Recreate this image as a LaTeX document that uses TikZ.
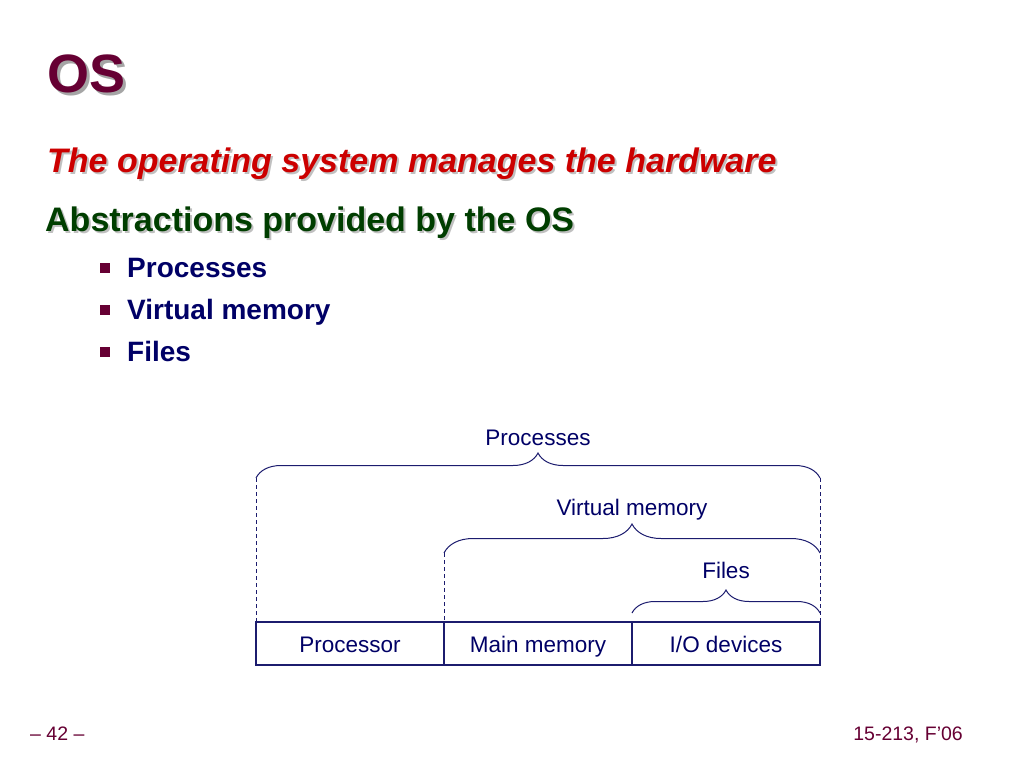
\documentclass[tikz,border=0pt]{standalone}
\usepackage{fontspec}
\setmainfont{Liberation Sans}
\usepackage{tikz}
\usetikzlibrary{calc}
\usetikzlibrary{positioning}
\usetikzlibrary{decorations.pathreplacing}
\definecolor{maroon}{RGB}{102,0,51}
\definecolor{slidered}{RGB}{204,0,0}
\definecolor{slidegreen}{RGB}{0,62,0}
\definecolor{navy}{RGB}{0,0,102}
\definecolor{linenavy}{RGB}{28,28,110}
\definecolor{shade}{RGB}{165,165,165}

\begin{document}
\begin{tikzpicture}[>=latex,x=1pt,y=-1pt,
    heading/.style={anchor=base west,inner sep=0pt,font=\bfseries\fontsize{34}{38}\selectfont},
    item/.style={anchor=base west,inner sep=0pt,text=navy,font=\bfseries\fontsize{28}{32}\selectfont},
    bullet/.style={fill=maroon,inner sep=0pt,minimum size=10pt},
    cell/.style={draw=linenavy,line width=1.2pt,inner sep=0pt,outer sep=0pt,
        minimum width=188pt,minimum height=43pt,text height=20pt,text depth=3pt,
        text=navy,font=\fontsize{22.5}{26}\selectfont},
    label/.style={anchor=base,text=navy,inner sep=0pt,font=\fontsize{22.5}{26}\selectfont},
    brace/.style={decorate,decoration={brace,amplitude=#1},draw=linenavy,line width=1pt},
    guide/.style={draw=linenavy,line width=0.8pt,dash pattern=on 4pt off 3pt},
    foot/.style={inner sep=0pt,text=maroon,font=\fontsize{19.5}{22}\selectfont}]
    \useasboundingbox (0,0) rectangle (1024,768);

    % title and headings
    \node[heading,text=shade,font=\bfseries\fontsize{54}{60}\selectfont] (osshadow) at (50,95) {OS};
    \node[heading,text=maroon,font=\bfseries\fontsize{54}{60}\selectfont] (os) at (47,92) {OS};
    \node[heading,text=shade!70,font=\bfseries\itshape\fontsize{34}{38}\selectfont] (manshadow) at (49,174) {The operating system manages the hardware};
    \node[heading,text=slidered,font=\bfseries\itshape\fontsize{34}{38}\selectfont] (manages) at (47,172) {The operating system manages the hardware};
    \node[heading,text=shade!70] (absshadow) at (47,233) {Abstractions provided by the OS};
    \node[heading,text=slidegreen] (abs) at (45,231) {Abstractions provided by the OS};

    \node[item] (iproc) at (127,277) {Processes};
    \node[item] (ivm) at (127,319) {Virtual memory};
    \node[item] (ifiles) at (127,361) {Files};
    \foreach \n/\y in {bproc/268,bvm/310,bfiles/352}
        \node[bullet] (\n) at (105,\y) {};

    % hardware
    \node[cell] (cpu) at (350,643.5) {Processor};
    \node[cell,right=0pt of cpu] (mem) {Main memory};
    \node[cell,right=0pt of mem] (io) {I/O devices};

    \path (cpu.north west) ++(0,-144) coordinate (P1)
          (io.north east) ++(0,-144) coordinate (P2)
          (mem.north west) ++(0,-69) coordinate (V1)
          (io.north east) ++(0,-69) coordinate (V2)
          (io.north west) ++(0,-9) coordinate (F1)
          (io.north east) ++(0,-9) coordinate (F2);

    \draw[brace=25] (P1) -- (P2);
    \draw[brace=29] (V1) -- (V2);
    \draw[brace=23] (F1) -- (F2);
    \draw[guide] (P1) -- (cpu.north west) (P2) -- (io.north east);
    \draw[guide] (V1) -- (mem.north west);

    \node[label] (lproc) at ($(P1)!0.5!(P2)+(0,-33)$) {Processes};
    \node[label] (lvm) at ($(V1)!0.5!(V2)+(0,-38)$) {Virtual memory};
    \node[label] (lfiles) at ($(F1)!0.5!(F2)+(0,-35)$) {Files};

    % footer
    \node[foot,anchor=base west] (page) at (30,740) {– 42 –};
    \node[foot,anchor=base east] (course) at (963,740) {15-213, F’06};
\end{tikzpicture}
\end{document}
